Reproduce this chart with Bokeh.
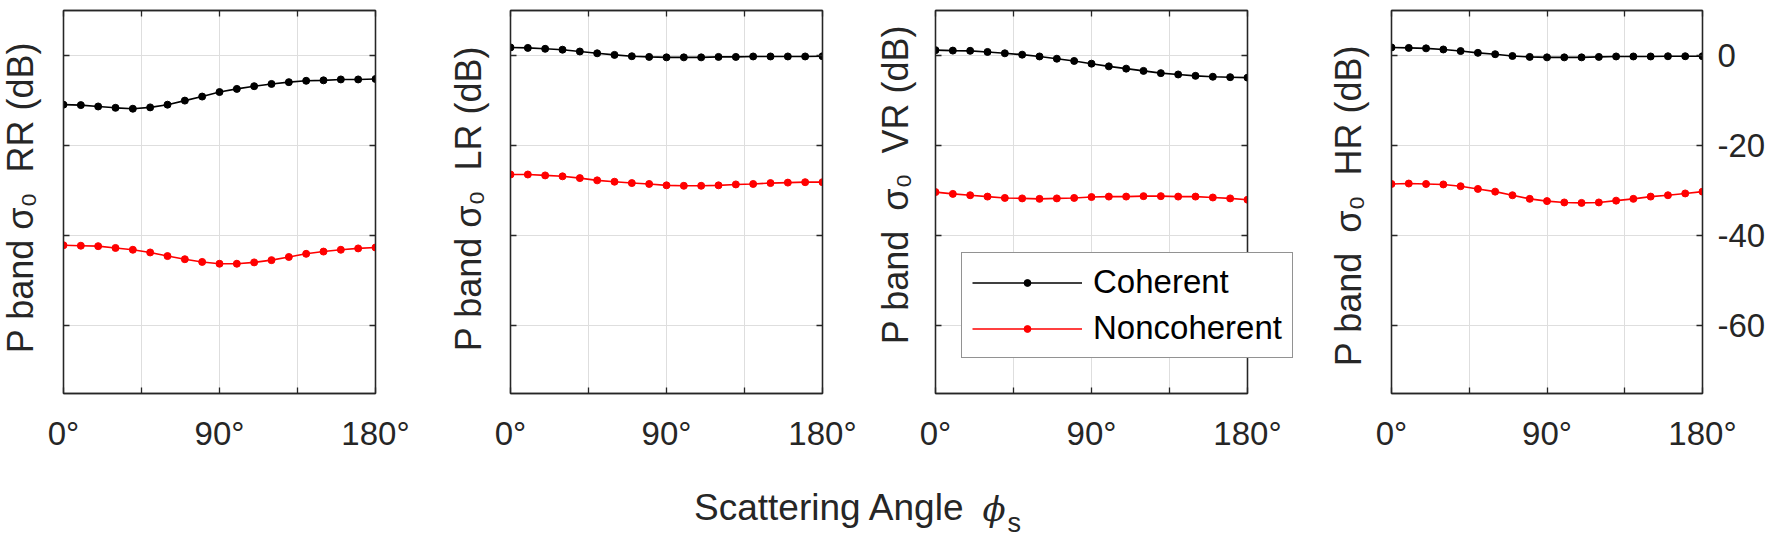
import math
from bokeh.plotting import figure
from bokeh.models import FixedTicker, LinearAxis, Label, Legend, LegendItem, Range1d, GridBox
from bokeh.layouts import row
from bokeh.embed import file_html
from bokeh.resources import INLINE

# ---------------- data ----------------
angles = [0, 10, 20, 30, 40, 50, 60, 70, 80, 90, 100, 110, 120, 130, 140, 150, 160, 170, 180]

x_ticks = [0, 45, 90, 135, 180]
x_tick_labels = ["0°", "", "90°", "", "180°"]
y_ticks = [-60, -40, -20, 0]
y_tick_labels = ["-60", "-40", "-20", "0"]

polarizations = ["RR", "LR", "VR", "HR"]
series_names = ["Coherent", "Noncoherent"]

coh_rr = [-10.9, -11.0, -11.3, -11.6, -11.8, -11.5, -10.9, -10.0, -9.1, -8.1,
          -7.4, -6.8, -6.3, -5.9, -5.6, -5.5, -5.3, -5.3, -5.2]
non_rr = [-42.1, -42.2, -42.3, -42.7, -43.1, -43.7, -44.5, -45.2, -45.8, -46.2,
          -46.2, -45.9, -45.4, -44.7, -44.0, -43.5, -43.1, -42.8, -42.6]

coh_lr = [1.8, 1.7, 1.5, 1.3, 0.9, 0.5, 0.15, -0.15, -0.3, -0.4,
          -0.4, -0.4, -0.3, -0.3, -0.2, -0.2, -0.2, -0.2, -0.15]
non_lr = [-26.4, -26.4, -26.6, -26.8, -27.2, -27.7, -28.0, -28.3, -28.5, -28.8,
          -28.9, -28.9, -28.8, -28.6, -28.5, -28.3, -28.2, -28.1, -28.1]

coh_vr = [1.2, 1.1, 1.05, 0.8, 0.5, 0.2, -0.2, -0.7, -1.2, -1.8,
          -2.4, -2.9, -3.4, -3.9, -4.2, -4.5, -4.7, -4.8, -4.9]
non_vr = [-30.3, -30.7, -31.0, -31.3, -31.6, -31.7, -31.8, -31.7, -31.6, -31.4,
          -31.3, -31.3, -31.2, -31.2, -31.3, -31.3, -31.5, -31.7, -32.0]

coh_hr = [1.8, 1.7, 1.6, 1.35, 1.0, 0.6, 0.3, -0.1, -0.3, -0.4,
          -0.4, -0.4, -0.3, -0.2, -0.2, -0.2, -0.15, -0.15, -0.15]
non_hr = [-28.5, -28.4, -28.5, -28.6, -29.0, -29.6, -30.2, -31.0, -31.8, -32.3,
          -32.6, -32.7, -32.6, -32.2, -31.8, -31.3, -31.0, -30.6, -30.2]

coherent = [coh_rr, coh_lr, coh_vr, coh_hr]
noncoherent = [non_rr, non_lr, non_vr, non_hr]

NB = "\u00a0"
y_titles = [
    "P band σ₀" + NB + NB + "RR (dB)",
    "P band σ₀" + NB + NB + "LR (dB)",
    "P band" + NB + NB + "σ₀" + NB + NB + "VR (dB)",
    "P band" + NB + NB + "σ₀" + NB + NB + "HR (dB)",
]
x_title = "Scattering Angle"
x_title_symbol = "ϕ"
x_title_sub = "s"

# ---------------- style ----------------
FONT = "Liberation Sans"
TXT = "#262626"
TICK_FS = "33px"
LABEL_FS = "36px"
TOTAL_W = 1770
TOTAL_H = 536
COLORS = ["#000000", "#ff0000"]

# per panel: canvas width, left border, right border, top border, frame height
layout_spec = [
    (430, 63, 55, 10, 388),
    (440, 80, 48, 10, 388),
    (450, 65, 73, 5, 388),
    (450, 71, 68, 10, 388),
]
# y-title placement (text middle x, centre y from top) in page pixels
y_title_pos = [(20, 197), (468, 198), (895, 184), (1348, 205)]


def style_axis(ax, labels_on, ticks, labels):
    ax.ticker = FixedTicker(ticks=ticks)
    ax.major_tick_in = 6
    ax.major_tick_out = 0
    ax.minor_tick_line_color = None
    ax.axis_line_color = TXT
    ax.axis_line_width = 1.3
    ax.major_tick_line_color = TXT
    ax.major_tick_line_width = 1.3
    if labels_on:
        ax.major_label_overrides = {t: l for t, l in zip(ticks, labels)}
        ax.major_label_text_font = FONT
        ax.major_label_text_font_size = TICK_FS
        ax.major_label_text_color = TXT
    else:
        ax.major_label_overrides = {t: "" for t in ticks}
        ax.major_label_text_font_size = "0px"
        ax.major_label_standoff = 0


panels = []
for i, pol in enumerate(polarizations):
    w, bl, br, bt, fh = layout_spec[i]
    bb = TOTAL_H - bt - fh
    p = figure(width=w, height=TOTAL_H, x_range=Range1d(0, 180), y_range=Range1d(-75, 10),
               output_backend="svg", toolbar_location=None,
               min_border_left=bl, min_border_right=br, min_border_top=bt, min_border_bottom=bb)
    p.outline_line_color = TXT
    p.outline_line_width = 1.3
    p.background_fill_color = "white"
    p.border_fill_color = "white"

    p.xgrid.ticker = FixedTicker(ticks=x_ticks)
    p.ygrid.ticker = FixedTicker(ticks=y_ticks)
    p.grid.grid_line_color = "#dedede"
    p.grid.grid_line_width = 1

    xb = p.xaxis[0]
    style_axis(xb, True, x_ticks, x_tick_labels)
    xb.major_label_standoff = 21

    yl = p.yaxis[0]
    style_axis(yl, False, y_ticks, y_tick_labels)

    xa = LinearAxis()
    style_axis(xa, False, x_ticks, x_tick_labels)
    p.add_layout(xa, "above")

    yr = LinearAxis()
    style_axis(yr, i == 3, y_ticks, y_tick_labels)
    if i == 3:
        yr.major_label_standoff = 15
    p.add_layout(yr, "right")

    for vals, col in zip([coherent[i], noncoherent[i]], COLORS):
        p.line(angles, vals, line_color=col, line_width=1.6)
        p.scatter(angles, vals, size=7, fill_color=col, line_color=col)

    panels.append(p)

# transparent overlay covering the page: y titles, legend and common x title
ov = figure(width=TOTAL_W, height=TOTAL_H, output_backend="svg", toolbar_location=None,
            x_axis_location=None, y_axis_location=None, min_border=0,
            x_range=Range1d(0, 180), y_range=Range1d(500, 600))
ov.outline_line_color = None
ov.background_fill_color = None
ov.border_fill_color = None
ov.grid.visible = False

for txt, (mx, cy) in zip(y_titles, y_title_pos):
    ov.add_layout(Label(x=mx, y=TOTAL_H - cy, x_units="screen", y_units="screen", text=txt,
                        angle=math.pi / 2, text_align="center", text_baseline="middle",
                        text_font=FONT, text_font_size=LABEL_FS, text_color=TXT))

items = []
for name, vals, col in zip(series_names, [coh_vr, non_vr], COLORS):
    l = ov.line(angles, vals, line_color=col, line_width=1.6)
    m = ov.scatter(angles, vals, size=7, fill_color=col, line_color=col)
    items.append(LegendItem(label=name, renderers=[l, m]))

leg = Legend(items=items, location=(961, TOTAL_H - 358))
leg.label_text_font = FONT
leg.label_text_font_size = TICK_FS
leg.label_text_color = "#000000"
leg.glyph_width = 110
leg.glyph_height = 17
leg.label_height = 36
leg.label_standoff = 11
leg.spacing = 8
leg.padding = 10
leg.margin = 0
leg.border_line_color = TXT
leg.border_line_width = 1.4
leg.background_fill_color = "white"
leg.background_fill_alpha = 1.0
ov.add_layout(leg, "center")

# x title: middles of the text lines (baseline ~520 px from the top)
ov.add_layout(Label(x=965, y=TOTAL_H - 507, x_units="screen", y_units="screen", text=x_title,
                    text_align="right", text_baseline="middle", text_font=FONT,
                    text_font_size="37px", text_color=TXT))
ov.add_layout(Label(x=982, y=TOTAL_H - 508, x_units="screen", y_units="screen", text=x_title_symbol,
                    text_align="left", text_baseline="middle", text_font="DejaVu Serif",
                    text_font_style="italic", text_font_size="34px", text_color=TXT))
ov.add_layout(Label(x=1007, y=TOTAL_H - 522, x_units="screen", y_units="screen", text=x_title_sub,
                    text_align="left", text_baseline="middle", text_font=FONT,
                    text_font_size="27px", text_color=TXT))

layout = GridBox(children=[(row(*panels), 0, 0), (ov, 0, 0)])
open("out.html", "w").write(file_html(layout, INLINE))
